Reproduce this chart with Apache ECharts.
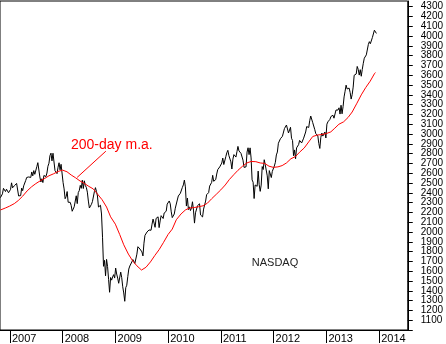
<!DOCTYPE html>
<html>
<head>
<meta charset="utf-8">
<script src="https://cdn.jsdelivr.net/npm/echarts@6/dist/echarts.min.js"></script>
<style>
  html, body { margin: 0; padding: 0; background: #fff; }
  #chart { width: 446px; height: 344px; }
</style>
</head>
<body>
<div id="chart"></div>
<script>
// NASDAQ Composite, weekly (Friday) closes starting 27 Oct 2006
const firstFriday = [2006, 9, 27];
const nasdaqWeekly = [
  // 2006
  2351, 2331, 2390, 2446, 2460, 2413, 2437, 2457, 2401, 2415,
  // 2007
  2435, 2502, 2451, 2435,  2475, 2460, 2496, 2515,  2368, 2387, 2372, 2448, 2422,
  2471, 2491, 2526, 2557,  2573, 2562, 2558, 2557,  2613, 2573, 2627, 2589, 2603,
  2667, 2708, 2688, 2562,  2511, 2544, 2505, 2577, 2596,  2566, 2602, 2671, 2702,
  2780, 2805, 2726, 2804,  2811, 2627, 2637, 2596, 2661,  2707, 2635, 2691, 2674,
  // 2008
  2504, 2440, 2340, 2361,  2413, 2304, 2321, 2303, 2271,  2212, 2212, 2258, 2262,
  2370, 2290, 2402, 2423,  2476, 2446, 2529, 2444, 2523,  2475, 2454, 2407, 2316,
  2245, 2239, 2282, 2310,  2310, 2414, 2453, 2415, 2368,  2255, 2262, 2273, 2184,
  1947, 1650, 1711, 1553, 1721,  1647, 1517, 1385, 1536,  1509, 1541, 1565, 1530,
  // 2009
  1632, 1571, 1530, 1477, 1476,  1591, 1534, 1441, 1378,  1293, 1432, 1457, 1545,
  1622, 1653, 1673, 1694,  1719, 1739, 1680, 1692, 1774,  1850, 1859, 1827, 1838,
  1797, 1756, 1886, 1966, 1979,  2000, 1985, 2021, 2028,  2018, 2080, 2132, 2091,
  2048, 2139, 2157, 2155, 2045,  2113, 2167, 2147, 2138,  2194, 2191, 2212, 2285,
  2269,
  // 2010
  2317, 2288, 2206, 2147,  2142, 2184, 2243, 2238,  2327, 2368, 2375, 2395,
  2402, 2455, 2481, 2530, 2461,  2265, 2347, 2229, 2257,  2219, 2244, 2309, 2224,
  2091, 2196, 2179, 2269, 2255,  2288, 2174, 2179, 2154,  2234, 2242, 2316, 2381,
  2371, 2402, 2469, 2479, 2507,  2579, 2518, 2518, 2535,  2592, 2637, 2642, 2665, 2653,
  // 2011
  2704, 2755, 2689, 2687,  2769, 2810, 2834, 2782,  2785, 2716, 2643, 2744,
  2790, 2780, 2765, 2820, 2874,  2828, 2829, 2803, 2797,  2733, 2660, 2640, 2665,
  2816, 2860, 2790, 2859, 2756,  2532, 2508, 2342, 2480,  2480, 2467, 2622, 2483, 2415,
  2479, 2668, 2638, 2738,  2687, 2679, 2573, 2441,  2627, 2647, 2556, 2619, 2605,
  // 2012
  2674, 2711, 2787, 2816,  2906, 2904, 2952, 2964,  2977, 2988, 3056, 3068, 3092,
  3080, 3011, 3000, 3069,  2957, 2934, 2779, 2838,  2748, 2859, 2872, 2892, 2935,
  2937, 2909, 2926, 2958,  2968, 3021, 3076, 3070, 3067,  3136, 3184, 3180, 3116,
  3136, 3045, 3005, 2987,  2982, 2904, 2853, 2967, 3010,  2979, 2972, 3021, 2960,
  // 2013
  3101, 3125, 3135, 3150,  3179, 3194, 3192, 3162,  3170, 3245, 3249, 3245, 3268,
  3204, 3294, 3207, 3279,  3379, 3437, 3499, 3460, 3456,  3469, 3424, 3357, 3403,
  3479, 3600, 3588, 3613,  3690, 3660, 3602, 3657, 3590,  3660, 3722, 3774, 3781,
  3808, 3792, 3914, 3943,  3922, 3919, 3985, 3991, 4060,  4062, 4027
];

// 200-day moving average, month-end readings
const maDates = [
  '2006-10-27', '2006-11-30', '2006-12-29',
  '2007-01-31', '2007-02-28', '2007-03-30', '2007-04-30', '2007-05-31', '2007-06-29',
  '2007-07-31', '2007-08-31', '2007-09-28', '2007-10-31', '2007-11-30', '2007-12-31',
  '2008-01-31', '2008-02-29', '2008-03-31', '2008-04-30', '2008-05-30', '2008-06-30',
  '2008-07-31', '2008-08-29', '2008-09-30', '2008-10-31', '2008-11-28', '2008-12-31',
  '2009-01-30', '2009-02-27', '2009-03-31', '2009-04-30', '2009-05-29', '2009-06-30',
  '2009-07-31', '2009-08-31', '2009-09-30', '2009-10-30', '2009-11-30', '2009-12-31',
  '2010-01-29', '2010-02-26', '2010-03-31', '2010-04-30', '2010-05-28', '2010-06-30',
  '2010-07-30', '2010-08-31', '2010-09-30', '2010-10-29', '2010-11-30', '2010-12-31',
  '2011-01-31', '2011-02-28', '2011-03-31', '2011-04-29', '2011-05-31', '2011-06-30',
  '2011-07-29', '2011-08-31', '2011-09-30', '2011-10-31', '2011-11-30', '2011-12-30',
  '2012-01-31', '2012-02-29', '2012-03-30', '2012-04-30', '2012-05-31', '2012-06-29',
  '2012-07-31', '2012-08-31', '2012-09-28', '2012-10-31', '2012-11-30', '2012-12-31',
  '2013-01-31', '2013-02-28', '2013-03-28', '2013-04-30', '2013-05-31', '2013-06-28',
  '2013-07-31', '2013-08-30', '2013-09-30', '2013-10-31', '2013-11-29', '2013-12-06'
];
const maValues = [
  2225, 2245, 2264,
  2290, 2322, 2366, 2420, 2462, 2494,
  2524, 2548, 2574, 2595, 2618, 2632,
  2615, 2582, 2553, 2521, 2496, 2466,
  2440, 2388, 2330, 2255, 2155, 2080,
  1975, 1870, 1775, 1705, 1655, 1612,
  1640, 1695, 1760, 1820, 1895, 1975,
  2030, 2125, 2185, 2225, 2245, 2250,
  2258, 2268, 2295, 2340, 2385, 2430,
  2480, 2535, 2585, 2630, 2672, 2705,
  2720, 2718, 2705, 2700, 2672, 2660,
  2665, 2678, 2705, 2748, 2770, 2815,
  2858, 2920, 2975, 2990, 2995, 3005,
  3022, 3060, 3100, 3125, 3170, 3225,
  3315, 3400, 3475, 3540, 3615, 3628
];

const yearLabels = ['2007', '2008', '2009', '2010', '2011', '2012', '2013', '2014'];
const indexName = 'NASDAQ';
const maName = '200-day m.a.';
// leader from the moving-average line up to its caption: [date, value] pairs
const maCalloutFrom = ['2008-04-10', 2557];
const maCalloutTo = ['2008-10-26', 2825];

function toTime(s) {
  const p = s.split('-').map(Number);
  return new Date(p[0], p[1] - 1, p[2]).getTime();
}

const priceData = nasdaqWeekly.map(function (v, i) {
  return [new Date(firstFriday[0], firstFriday[1], firstFriday[2] + 7 * i).getTime(), v];
});
const maData = maDates.map(function (d, i) { return [toTime(d), maValues[i]]; });

const FONT = 'Arial, "Liberation Sans", sans-serif';
const chart = echarts.init(document.getElementById('chart'), null, { renderer: 'canvas' });

chart.setOption({
  animation: false,
  backgroundColor: '#fff',
  textStyle: { fontFamily: FONT },
  grid: {
    left: -1, right: 35, top: 1, bottom: 13,
    show: true, borderColor: '#000', borderWidth: 1, backgroundColor: 'transparent'
  },
  xAxis: {
    type: 'time',
    min: toTime('2006-10-24'),
    max: toTime('2014-07-18'),
    minInterval: 365 * 864e5,
    maxInterval: 366 * 864e5,
    axisLine: { show: true, lineStyle: { color: '#000', width: 1 } },
    axisTick: { show: true, length: 13, lineStyle: { color: '#000', width: 1 } },
    axisLabel: {
      show: true,
      align: 'left',
      margin: 3,
      padding: [0, 0, 0, 2],
      color: '#000',
      fontSize: 11,
      fontFamily: FONT,
      showMinLabel: false,
      showMaxLabel: false,
      formatter: function (value) {
        const d = new Date(value);
        const y = String(d.getFullYear());
        if (d.getMonth() === 0 && d.getDate() === 1 && yearLabels.indexOf(y) >= 0) return y;
        return '';
      }
    },
    splitLine: { show: false }
  },
  yAxis: {
    type: 'value',
    position: 'right',
    min: 1000,
    max: 4358,
    interval: 100,
    axisLine: { show: true, lineStyle: { color: '#000', width: 1 } },
    axisTick: { show: true, length: 5, lineStyle: { color: '#000', width: 1 } },
    axisLabel: {
      margin: 13,
      color: '#000',
      fontSize: 10,
      fontFamily: FONT,
      showMaxLabel: false,
      formatter: function (v) {
        return (v >= 1100 && v <= 4300 && v % 100 === 0) ? String(v) : '';
      }
    },
    splitLine: { show: false }
  },
  series: [
    {
      name: indexName,
      type: 'line',
      data: priceData,
      showSymbol: false,
      symbol: 'none',
      silent: true,
      lineStyle: { color: '#000', width: 1 },
      itemStyle: { color: '#000' },
      z: 2
    },
    {
      name: maName,
      type: 'line',
      data: maData,
      showSymbol: false,
      symbol: 'none',
      silent: true,
      lineStyle: { color: '#ff0000', width: 1 },
      itemStyle: { color: '#ff0000' },
      z: 3,
      markLine: {
        silent: true,
        symbol: ['none', 'none'],
        label: { show: false },
        lineStyle: { color: '#ff0000', width: 1, type: 'solid' },
        emphasis: { disabled: true },
        data: [[
          { coord: [toTime(maCalloutFrom[0]), maCalloutFrom[1]] },
          { coord: [toTime(maCalloutTo[0]), maCalloutTo[1]] }
        ]]
      }
    }
  ],
  graphic: [
    {
      type: 'text',
      x: 71, y: 145,
      silent: true,
      style: {
        text: maName,
        fill: '#ff0000',
        font: '14px ' + FONT,
        align: 'left',
        verticalAlign: 'middle'
      }
    },
    {
      type: 'text',
      x: 275, y: 263,
      silent: true,
      style: {
        text: indexName,
        fill: '#222',
        font: '11px ' + FONT,
        align: 'center',
        verticalAlign: 'middle'
      }
    }
  ]
});
</script>
</body>
</html>
